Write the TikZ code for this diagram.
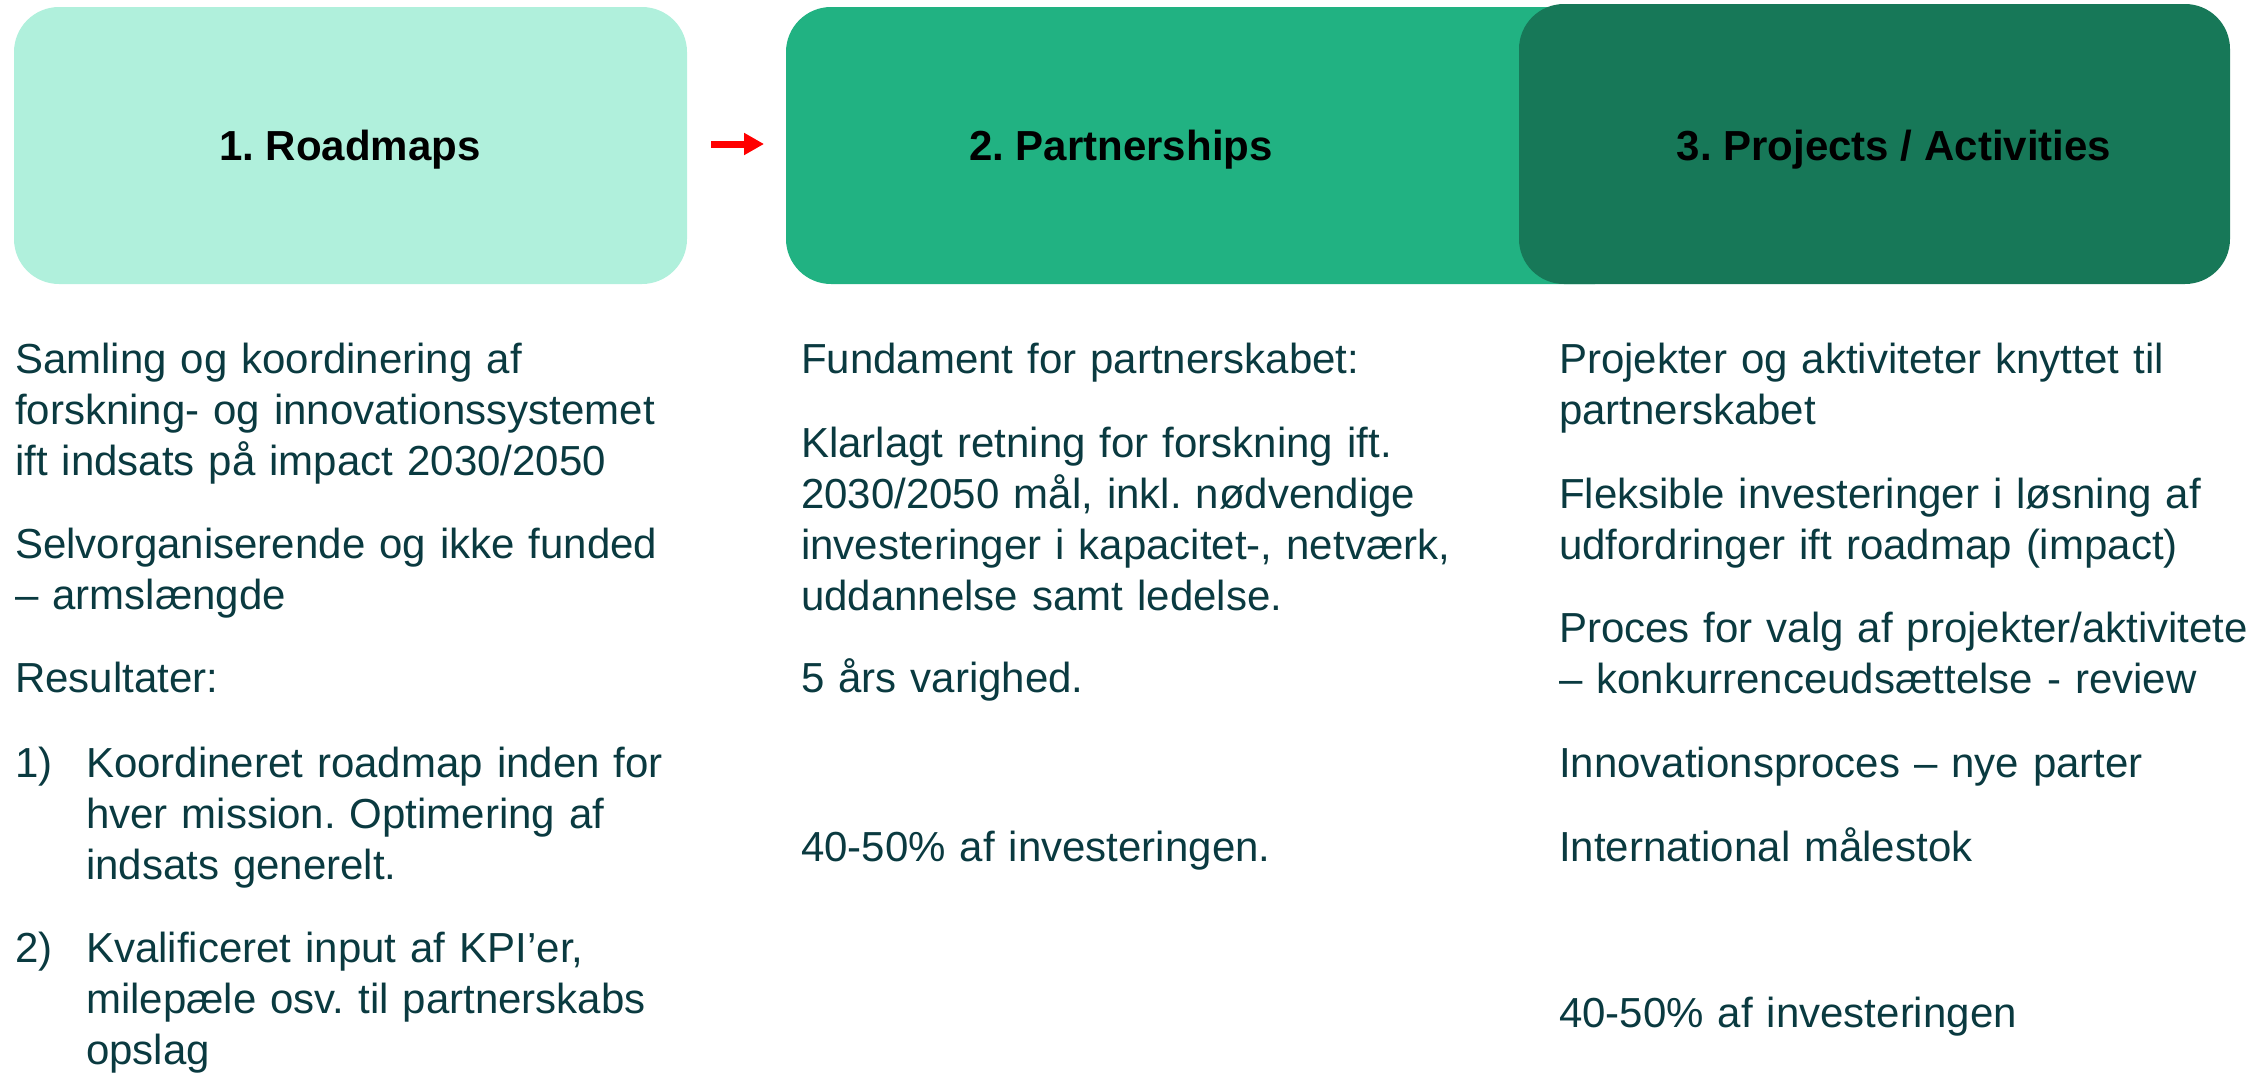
\documentclass[tikz,border=0pt]{standalone}
\usepackage{fontspec}
\setmainfont{Liberation Sans}
\frenchspacing
\usetikzlibrary{arrows.meta}
\definecolor{mintfill}{RGB}{176,240,220}
\definecolor{greenfill}{RGB}{33,178,130}
\definecolor{darkfill}{RGB}{23,120,88}
\definecolor{bodytext}{RGB}{10,58,64}
\begin{document}
\begin{tikzpicture}[x=1pt,y=-1pt,
  phase/.style={rounded corners=45pt},
  title/.style={font=\fontsize{42}{51}\selectfont\bfseries, text=black, inner sep=0pt, anchor=base},
  body/.style={font=\fontsize{42}{51}\selectfont, text=bodytext, inner sep=0pt,
    anchor=base west, align=left, text width=1000pt},
]
\useasboundingbox (0,0) rectangle (2247,1074);
\clip (0,0) rectangle (2247,1074);

% phase boxes
\fill[mintfill, phase] (14,7) rectangle (687,284);
\fill[greenfill, phase] (786,7) rectangle (1640,284);
\fill[darkfill, phase] (1519,4) rectangle (2230,284);

% box titles
\node[title] (t1) at (350,160) {1. Roadmaps};
\node[title] (t2) at (1121,160) {2. Partnerships};
\node[title] (t3) at (1894,160) {3. Projects / Activities};

% red arrow between phase 1 and phase 2
\coordinate (arrowtail) at (711,144);
\coordinate (arrowtip) at (764,144);
\draw[red, line width=7pt, -{Triangle[length=20pt, width=21pt]}] (arrowtail) -- (arrowtip);

% column 1: roadmaps
\node[body] (c1a) at (15,373) {Samling og koordinering af\\forskning- og innovationssystemet\\ift indsats på impact 2030/2050};
\node[body] (c1b) at (15,558) {Selvorganiserende og ikke funded\\– armslængde};
\node[body] (c1c) at (15,692) {Resultater:};
\node[body] (c1n1) at (15,777) {1)};
\node[body] (c1d) at (86,777) {Koordineret roadmap inden for\\hver mission. Optimering af\\indsats generelt.};
\node[body] (c1n2) at (15,962) {2)};
\node[body] (c1e) at (86,962) {Kvalificeret input af KPI’er,\\milepæle osv. til partnerskabs\\opslag};

% column 2: partnerships
\node[body] (c2a) at (801,373) {Fundament for partnerskabet:};
\node[body] (c2b) at (801,457) {Klarlagt retning for forskning ift.\\2030/2050 mål, inkl. nødvendige\\investeringer i kapacitet-, netværk,\\uddannelse samt ledelse.};
\node[body] (c2c) at (801,692) {5 års varighed.};
\node[body] (c2d) at (801,861) {40-50\% af investeringen.};

% column 3: projects / activities
\node[body] (c3a) at (1559,373) {Projekter og aktiviteter knyttet til\\partnerskabet};
\node[body] (c3b) at (1559,508) {Fleksible investeringer i løsning af\\udfordringer ift roadmap (impact)};
\node[body] (c3c) at (1559,642) {Proces for valg af projekter/aktiviteter\\– konkurrenceudsættelse - review};
\node[body] (c3d) at (1559,777) {Innovationsproces – nye parter};
\node[body] (c3e) at (1559,861) {International målestok};
\node[body] (c3f) at (1559,1027) {40-50\% af investeringen};
\end{tikzpicture}
\end{document}
